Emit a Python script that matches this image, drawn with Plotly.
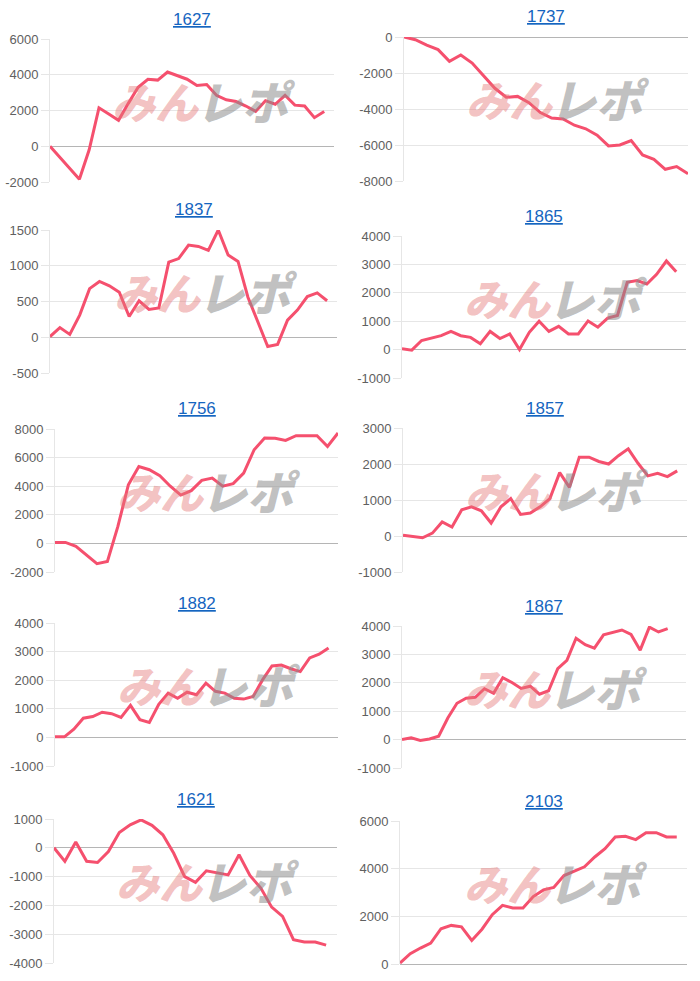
import plotly.graph_objects as go

W, H = 700, 981

# chart titles, row by row (left, right)
titles = ["1627", "1737", "1837", "1865", "1756", "1857", "1882", "1867", "1621", "2103"]

v1627 = [0, -600, -1250, -1850, -200, 2150, 1800, 1450, 2400, 3300, 3750, 3700, 4150, 3950,
         3750, 3400, 3450, 2850, 2600, 2500, 2250, 1950, 2550, 2350, 2850, 2300, 2250, 1600, 1950]
v1737 = [0, -150, -450, -700, -1350, -1000, -1450, -2150, -2850, -3350, -3300, -3650, -4200,
         -4500, -4550, -4900, -5100, -5450, -6050, -6000, -5750, -6550, -6800, -7350, -7200, -7600]
v1837 = [10, 135, 40, 310, 680, 780, 720, 630, 290, 510, 390, 410, 1050, 1100, 1290, 1270, 1215,
         1500, 1150, 1060, 560, 220, -130, -100, 240, 380, 570, 620, 510]
v1865 = [30, -20, 320, 410, 490, 640, 490, 430, 210, 640, 390, 550, 0, 610, 1000, 640, 820, 550,
         550, 1010, 790, 1110, 1200, 2370, 2430, 2310, 2650, 3120, 2740]
v1756 = [70, 70, -200, -840, -1420, -1260, 1190, 4100, 5380, 5150, 4730, 4000, 3380, 3690, 4410,
         4570, 4000, 4180, 4920, 6550, 7370, 7350, 7200, 7530, 7530, 7530, 6780, 7720]
v1857 = [20, -10, -50, 80, 390, 250, 730, 810, 700, 360, 810, 1040, 600, 640, 810, 1040, 1760,
         1350, 2190, 2190, 2070, 2000, 2230, 2420, 2020, 1670, 1740, 1650, 1810]
v1882 = [20, 20, 290, 670, 730, 880, 830, 700, 1120, 620, 520, 1160, 1550, 1370, 1580, 1490, 1900,
         1610, 1550, 1370, 1340, 1430, 2010, 2500, 2530, 2400, 2300, 2780, 2910, 3130]
v1867 = [0, 60, -30, 20, 120, 760, 1280, 1460, 1490, 1790, 1630, 2180, 2010, 1800, 1880, 1600,
         1720, 2500, 2790, 3570, 3340, 3220, 3690, 3780, 3860, 3700, 3150, 3960, 3790, 3910]
v1621 = [0, -470, 200, -470, -510, -130, 530, 800, 970, 780, 450, -190, -1000, -1200, -800, -860,
         -940, -240, -960, -1400, -2060, -2380, -3190, -3270, -3270, -3380]
v2103 = [40, 430, 670, 880, 1480, 1620, 1560, 990, 1460, 2070, 2460, 2350, 2350, 2830, 3110, 3210,
         3710, 3880, 4080, 4490, 4840, 5330, 5360, 5220, 5510, 5510, 5330, 5330]

series = [v1627, v1737, v1837, v1865, v1756, v1857, v1882, v1867, v1621, v2103]

# number of x categories on each chart (some days have no value yet)
label_counts = [30, 26, 30, 30, 28, 30, 31, 32, 27, 29]

y_ranges = [(-2000, 6000), (-8000, 0), (-500, 1500), (-1000, 4000), (-2000, 8000),
            (-1000, 3000), (-1000, 4000), (-1000, 4000), (-4000, 1000), (0, 6000)]
y_steps = [2000, 2000, 500, 1000, 2000, 1000, 1000, 1000, 1000, 2000]

# plot boxes in pixels: left, right, top, bottom
boxes = [(50, 334, 39, 182), (404, 688, 37, 181),
         (50, 337, 230, 373), (402, 686, 236, 378),
         (55, 338, 429, 572), (403, 687, 428, 572),
         (55, 338, 623, 766), (402, 686, 626, 768),
         (54, 337, 819, 963), (400, 687, 821, 964)]

LINE = "#f5506e"
GRID = "#e6e6e6"

fig = go.Figure()
annotations = []

for i, (name, vals) in enumerate(zip(titles, series)):
    n = i + 1
    xa = "x" if n == 1 else f"x{n}"
    ya = "y" if n == 1 else f"y{n}"
    l, r, t, b = boxes[i]
    lo, hi = y_ranges[i]
    tickvals = list(range(lo, hi + 1, y_steps[i]))

    fig.add_trace(go.Scatter(
        x=list(range(len(vals))), y=vals, mode="lines",
        line=dict(color=LINE, width=3), xaxis=xa, yaxis=ya,
        showlegend=False, hoverinfo="y",
    ))

    fig.layout[f"xaxis{'' if n == 1 else n}"] = dict(
        domain=[l / W, r / W], range=[0, label_counts[i] - 1], anchor=ya,
        showgrid=False, zeroline=False, showticklabels=False, showline=False,
        fixedrange=True, automargin=False,
    )
    fig.layout[f"yaxis{'' if n == 1 else n}"] = dict(
        domain=[1 - b / H, 1 - t / H], range=[lo, hi], anchor=xa,
        tickmode="array", tickvals=tickvals, ticktext=[str(v) for v in tickvals],
        showgrid=True, gridcolor=GRID, gridwidth=1,
        zeroline=True, zerolinecolor="#b5b5b5", zerolinewidth=1,
        showline=True, linecolor=GRID, linewidth=1,
        ticks="outside", ticklen=8, tickcolor=GRID,
        tickfont=dict(size=13, color="#606060"), fixedrange=True, automargin=False,
    )

    cx = (l + r) / 2
    annotations.append(dict(
        text=f"<u>{name}</u>", x=cx / W, y=1 - (t - 20) / H, xref="paper", yref="paper",
        xanchor="center", yanchor="middle", showarrow=False,
        font=dict(size=17, color="#1565c0", family="Liberation Sans, Arial, sans-serif"),
    ))

    # site watermark
    wy = 1 - (t + 61) / H
    annotations.append(dict(
        text="みん", x=(cx + 10) / W, y=wy, xref="paper", yref="paper",
        xanchor="right", yanchor="middle", showarrow=False,
        font=dict(size=43, color="rgba(228,120,120,0.45)", family="Noto Sans CJK JP",
                  weight=900, style="italic"),
    ))
    annotations.append(dict(
        text="レポ", x=(cx + 2) / W, y=wy, xref="paper", yref="paper",
        xanchor="left", yanchor="middle", showarrow=False,
        font=dict(size=46, color="rgba(140,140,140,0.55)", family="Noto Sans CJK JP",
                  weight=900, style="italic"),
    ))

fig.update_layout(
    width=W, height=H,
    margin=dict(l=0, r=0, t=0, b=0, autoexpand=False),
    paper_bgcolor="white", plot_bgcolor="white",
    font=dict(family="Liberation Sans, Arial, sans-serif"),
    annotations=annotations,
)

# drop the browser's default page margin so the figure sits at the window corner
fig.write_html("out.html", config={"displayModeBar": False},
               post_script="document.body.style.margin = '0';")
